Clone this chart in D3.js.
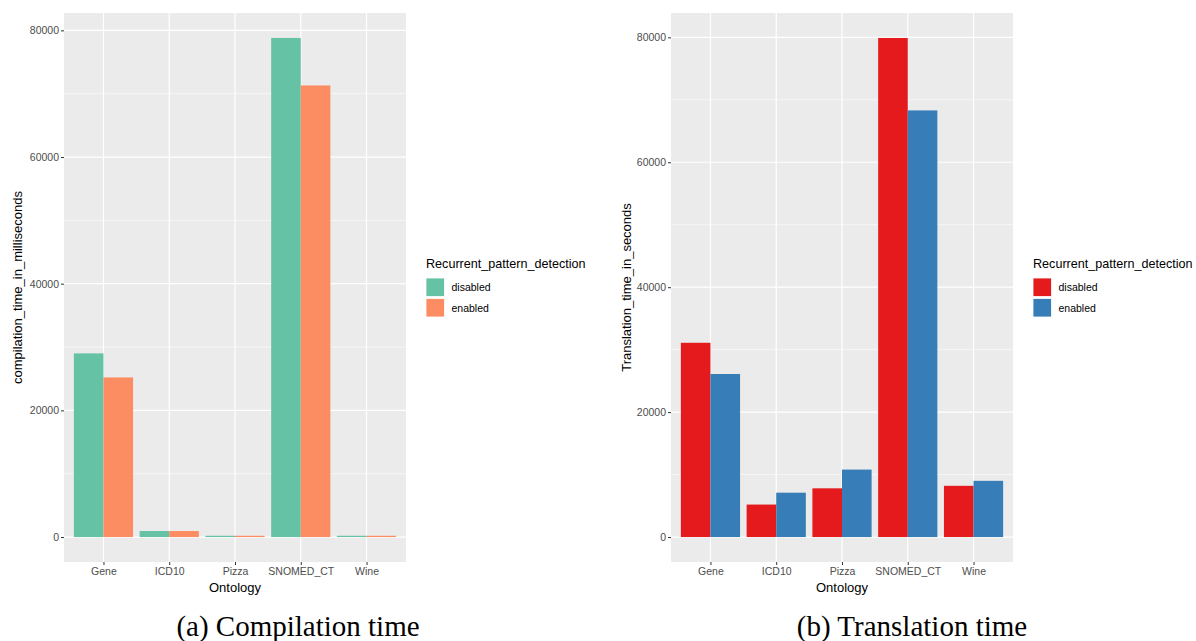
<!DOCTYPE html>
<html>
<head>
<meta charset="utf-8">
<script src="https://cdn.jsdelivr.net/npm/d3@7"></script>
<style>
  body { margin: 0; background: #fff; }
  svg text { font-family: "Liberation Sans", Arial, sans-serif; }
  .caption { font-family: "Liberation Serif", "DejaVu Serif", serif !important; }
</style>
</head>
<body>
<div id="chart"></div>
<script>
// Data
const ontologies = ["Gene", "ICD10", "Pizza", "SNOMED_CT", "Wine"];
const groups = ["disabled", "enabled"];
const compileDisabled = [29000, 950, 200, 78800, 200];
const compileEnabled = [25200, 950, 200, 71300, 200];
const translateDisabled = [31100, 5200, 7800, 79900, 8200];
const translateEnabled = [26100, 7100, 10800, 68300, 9000];
const yTicks = [0, 20000, 40000, 60000, 80000];
const yMinor = [10000, 30000, 50000, 70000];

const width = 1196;
const height = 641;

const svg = d3.select("#chart").append("svg")
  .attr("width", width)
  .attr("height", height);

function drawPanel(opt) {
  const g = svg.append("g");
  const x = d3.scalePoint().domain(ontologies).range([opt.left, opt.right]).padding(0.6);
  const step = x.step();
  const maxV = d3.max(opt.disabled.concat(opt.enabled));
  const span = maxV;
  const y = d3.scaleLinear()
    .domain([-0.05 * span, maxV + 0.05 * span])
    .range([opt.bottom, opt.top]);

  // panel background
  g.append("rect")
    .attr("x", opt.left).attr("y", opt.top)
    .attr("width", opt.right - opt.left).attr("height", opt.bottom - opt.top)
    .attr("fill", "#ebebeb");

  // minor grid
  g.selectAll(".minor").data(yMinor).enter().append("line")
    .attr("x1", opt.left).attr("x2", opt.right)
    .attr("y1", d => y(d)).attr("y2", d => y(d))
    .attr("stroke", "#fff").attr("stroke-width", 0.6);

  // major grid
  g.selectAll(".majorY").data(yTicks).enter().append("line")
    .attr("x1", opt.left).attr("x2", opt.right)
    .attr("y1", d => y(d)).attr("y2", d => y(d))
    .attr("stroke", "#fff").attr("stroke-width", 1.2);
  g.selectAll(".majorX").data(ontologies).enter().append("line")
    .attr("x1", d => x(d)).attr("x2", d => x(d))
    .attr("y1", opt.top).attr("y2", opt.bottom)
    .attr("stroke", "#fff").attr("stroke-width", 1.2);

  // bars
  const barW = step * 0.45;
  [opt.disabled, opt.enabled].forEach((vals, gi) => {
    g.selectAll(".bar" + gi).data(vals).enter().append("rect")
      .attr("x", (d, i) => x(ontologies[i]) - barW + gi * barW)
      .attr("y", d => y(d))
      .attr("width", barW)
      .attr("height", d => y(0) - y(d))
      .attr("fill", opt.colors[gi]);
  });

  // y axis
  const yAxis = g.append("g")
    .attr("transform", `translate(${opt.left},0)`)
    .call(d3.axisLeft(y).tickValues(yTicks).tickSize(3).tickPadding(2).tickFormat(d3.format("d")));
  yAxis.select(".domain").remove();
  yAxis.selectAll("line").attr("stroke", "#333");
  yAxis.selectAll("text").attr("fill", "#4d4d4d").style("font-size", "10.5px");

  // x axis
  const xAxis = g.append("g")
    .attr("transform", `translate(0,${opt.bottom})`)
    .call(d3.axisBottom(x).tickSize(3).tickPadding(3));
  xAxis.select(".domain").remove();
  xAxis.selectAll("line").attr("stroke", "#333");
  xAxis.selectAll("text").attr("fill", "#4d4d4d").style("font-size", "10.5px");

  // axis titles
  g.append("text")
    .attr("x", (opt.left + opt.right) / 2).attr("y", opt.bottom + 30)
    .attr("text-anchor", "middle").style("font-size", "13px").attr("fill", "#000")
    .text("Ontology");
  g.append("text")
    .attr("transform", `translate(${opt.yTitleX},${(opt.top + opt.bottom) / 2}) rotate(-90)`)
    .attr("text-anchor", "middle").style("font-size", "13px").attr("fill", "#000")
    .text(opt.yTitle);

  // legend
  const lg = g.append("g").attr("transform", `translate(${opt.legendX},${opt.legendY})`);
  lg.append("text").attr("x", 0).attr("y", 0)
    .style("font-size", "12.6px").attr("fill", "#000")
    .text("Recurrent_pattern_detection");
  groups.forEach((name, i) => {
    lg.append("rect")
      .attr("x", 0).attr("y", 10 + i * 20.5)
      .attr("width", 18.5).attr("height", 18.5)
      .attr("fill", opt.colors[i])
      .attr("stroke", "#fff").attr("stroke-width", 0.8);
    lg.append("text")
      .attr("x", 25.5).attr("y", 10 + i * 20.5 + 13)
      .style("font-size", "10.5px").attr("fill", "#000")
      .text(name);
  });

  // caption
  svg.append("text")
    .attr("class", "caption")
    .attr("x", opt.captionX).attr("y", 636)
    .attr("text-anchor", "middle")
    .style("font-size", "29px").attr("fill", "#000")
    .text(opt.caption);
}

drawPanel({
  left: 64, right: 406, top: 13, bottom: 562,
  disabled: compileDisabled, enabled: compileEnabled,
  colors: ["#66c2a5", "#fc8d62"],
  yTitle: "compilation_time_in_milliseconds", yTitleX: 22,
  legendX: 426, legendY: 268,
  caption: "(a) Compilation time", captionX: 298
});

drawPanel({
  left: 671, right: 1013, top: 13, bottom: 562,
  disabled: translateDisabled, enabled: translateEnabled,
  colors: ["#e41a1c", "#377eb8"],
  yTitle: "Translation_time_in_seconds", yTitleX: 631,
  legendX: 1033, legendY: 268,
  caption: "(b) Translation time", captionX: 912
});
</script>
</body>
</html>
